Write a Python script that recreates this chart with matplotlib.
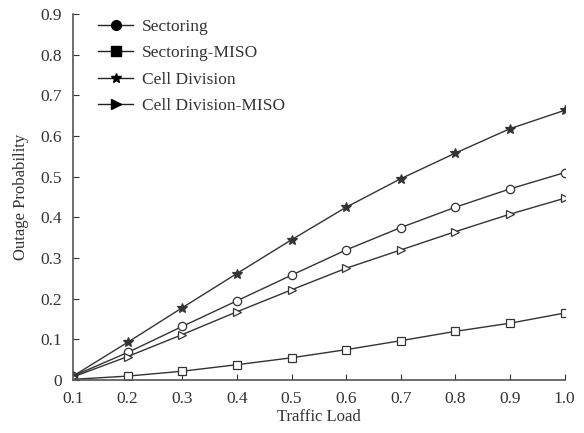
import matplotlib
matplotlib.use('Agg')
import matplotlib.pyplot as plt
from matplotlib.lines import Line2D

# 数据
traffic_load = [0.1, 0.2, 0.3, 0.4, 0.5, 0.6, 0.7, 0.8, 0.9, 1.0]
sectoring = [0.01, 0.068, 0.132, 0.195, 0.258, 0.32, 0.375, 0.425, 0.47, 0.51]
sectoring_miso = [0.002, 0.01, 0.022, 0.038, 0.055, 0.075, 0.097, 0.12, 0.14, 0.165]
cell_division = [0.01, 0.093, 0.178, 0.262, 0.345, 0.425, 0.495, 0.558, 0.618, 0.663]
cell_division_miso = [0.008, 0.058, 0.112, 0.168, 0.222, 0.275, 0.32, 0.365, 0.408, 0.447]

series = [
    ('Sectoring', sectoring, 'o'),
    ('Sectoring-MISO', sectoring_miso, 's'),
    ('Cell Division', cell_division, '*'),
    ('Cell Division-MISO', cell_division_miso, '>'),
]

plt.rcParams['font.family'] = ['Liberation Serif', 'DejaVu Serif']

fig = plt.figure(figsize=(5.84, 4.33), dpi=100)
ax = fig.add_axes([0.125, 0.122, 0.842, 0.846])

handles = []
for name, vals, mk in series:
    ax.plot(traffic_load, vals, color='#333333', linewidth=1.0, marker=mk,
            markersize=7 if mk == '*' else 6, markerfacecolor='white' if mk != '*' else '#333333',
            markeredgecolor='#333333', markeredgewidth=0.9)
    # 图例中使用实心标记
    handles.append(Line2D([], [], color='#222222', linewidth=1.0, marker=mk,
                          markersize=7, markerfacecolor='black',
                          markeredgecolor='black', label=name))

ax.set_xlim(0.1, 1.0)
ax.set_ylim(0, 0.9)
ax.set_xticks(traffic_load)
ax.set_xticklabels([f'{v:.1f}' for v in traffic_load])
yt = [0, 0.1, 0.2, 0.3, 0.4, 0.5, 0.6, 0.7, 0.8, 0.9]
ax.set_yticks(yt)
ax.set_yticklabels(['0'] + [f'{v:.1f}' for v in yt[1:]])

ax.spines['top'].set_visible(False)
ax.spines['right'].set_visible(False)
for s in ['left', 'bottom']:
    ax.spines[s].set_color('#555555')
    ax.spines[s].set_linewidth(1.2)
ax.tick_params(direction='in', length=4, colors='#333333', labelsize=12.5)
ax.tick_params(axis='x', pad=8)
ax.tick_params(axis='y', pad=8)

ax.set_xlabel('Traffic Load', fontsize=12, color='#333333', labelpad=1)
ax.set_ylabel('Outage Probability', fontsize=12, color='#333333', labelpad=8)

ax.legend(handles=handles, loc='upper left', bbox_to_anchor=(0.02, 1.03), frameon=False,
          fontsize=12.5, handlelength=2.0, handletextpad=0.5, labelspacing=0.6,
          labelcolor='#333333')

fig.savefig('out.png', dpi=100)
